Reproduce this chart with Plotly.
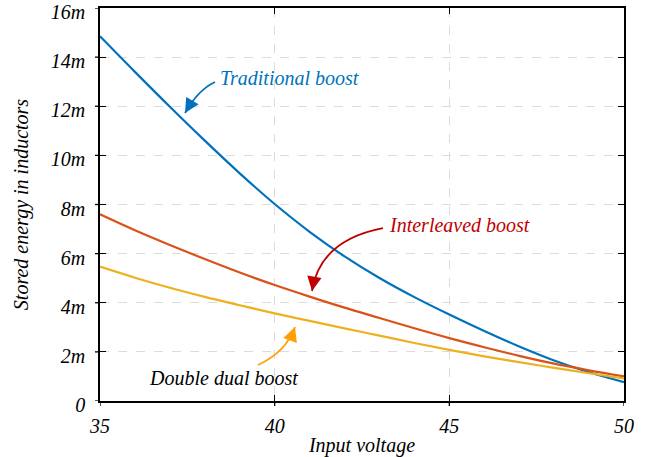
import plotly.graph_objects as go

# ---- data (energy in "m" units) ----
voltage = [35, 36, 37, 38, 39, 40, 41, 42, 43, 44, 45, 46, 47, 48, 49, 50]
traditional = [14.85, 13.40, 11.98, 10.60, 9.27, 8.02, 6.89, 5.89, 5.01, 4.23, 3.52, 2.85, 2.22, 1.65, 1.17, 0.77]
interleaved = [7.6, 6.95, 6.35, 5.78, 5.23, 4.72, 4.25, 3.8, 3.38, 2.96, 2.56, 2.19, 1.84, 1.52, 1.25, 1.0]
double_dual = [5.47, 5.02, 4.61, 4.24, 3.9, 3.57, 3.26, 2.96, 2.66, 2.36, 2.08, 1.82, 1.58, 1.35, 1.13, 0.92]

y_tickvals = [0, 2, 4, 6, 8, 10, 12, 14, 16]
y_ticktext = ["0", "2m", "4m", "6m", "8m", "10m", "12m", "14m", "16m"]
x_tickvals = [35, 40, 45, 50]
x_ticktext = ["35", "40", "45", "50"]

SCALE = 1e-3
BLUE = "#0072BD"
ORANGE = "#D95319"
YELLOW = "#EDB120"
RED_TXT = "#C00000"
ARROW_ORANGE = "#FFA000"
FONT = "Liberation Serif"

def sc(v):
    return [a * SCALE for a in v]

fig = go.Figure()
for name, vals, col in [("Traditional boost", traditional, BLUE),
                        ("Interleaved boost", interleaved, ORANGE),
                        ("Double dual boost", double_dual, YELLOW)]:
    fig.add_trace(go.Scatter(x=voltage, y=sc(vals), mode="lines", name=name,
                             line=dict(color=col, width=2.2, shape="spline", smoothing=1.0),
                             showlegend=False))

tfont = dict(family=FONT, size=20, color="black", style="italic")
YTOP = 16.00001 * SCALE

fig.update_layout(
    width=650, height=457,
    margin=dict(l=100, r=26, t=8, b=56, autoexpand=False),
    paper_bgcolor="white", plot_bgcolor="white",
    font=dict(family=FONT, size=20, color="black"),
    xaxis=dict(range=[35, 50], tickvals=x_tickvals, ticktext=x_ticktext,
               ticks="inside", ticklen=6, automargin=False,
               tickwidth=1.3, tickcolor="black", showline=True, linecolor="black",
               linewidth=1.5, mirror="ticks", showgrid=True, gridcolor="#DCDCDC",
               griddash="dash", gridwidth=1, zeroline=False, tickfont=tfont,
               ticklabelstandoff=6, ticklabeloverflow="allow",
               title=dict(text="Input voltage", font=tfont, standoff=2)),
    yaxis=dict(range=[0, YTOP], tickvals=sc(y_tickvals), ticktext=y_ticktext,
               ticks="inside", ticklen=6, tickwidth=1.3, tickcolor="black", automargin=False,
               showline=True, linecolor="black", linewidth=1.5, mirror="ticks",
               showgrid=True, gridcolor="#DCDCDC", griddash="dash", gridwidth=1,
               zeroline=False, tickfont=tfont, ticklabelstandoff=9, ticklabelshift=4,
               ticklabeloverflow="allow",
               title=dict(text="Stored energy in inductors", font=tfont, standoff=17)),
)

# outward tick stubs on left and bottom (ticks cross the axis line)
for xv in x_tickvals:
    fig.add_shape(type="line", xref="x", yref="paper", x0=xv, x1=xv,
                  ysizemode="pixel", yanchor=0, y0=0, y1=-5,
                  line=dict(color="black", width=1.3))
for yv in y_tickvals:
    fig.add_shape(type="line", xref="paper", yref="y", y0=yv * SCALE, y1=yv * SCALE,
                  xsizemode="pixel", xanchor=0, x0=0, x1=-5,
                  line=dict(color="black", width=1.3))

# ---- annotations: labels ----
labels = [
    ("Traditional boost", 38.378, 13.15, BLUE),
    ("Interleaved boost", 43.216, 7.165, RED_TXT),
    ("Double dual boost", 36.346, 0.936, "black"),
]
for txt, x, y, col in labels:
    fig.add_annotation(x=x, y=y * SCALE, text=txt, showarrow=False, xanchor="left",
                       yanchor="middle", font=dict(family=FONT, size=20, color=col, style="italic"))

# ---- curved arrows: (start, control, tip) in data coords, plus head direction in px ----
arrows = [
    ((38.292, 12.987), (37.805, 12.662), (37.433, 11.725), (6, -10), BLUE),
    ((43.101, 7.043), (41.298, 6.555), (41.069, 4.478), (2, -12), RED_TXT),
    ((39.523, 1.466), (40.325, 1.995), (40.582, 3.013), (-4, 11), ARROW_ORANGE),
]
for p0, c, p2, d, col in arrows:
    path = "M {},{} Q {},{} {},{}".format(p0[0], p0[1] * SCALE, c[0], c[1] * SCALE, p2[0], p2[1] * SCALE)
    fig.add_shape(type="path", path=path, xref="x", yref="y",
                  line=dict(color=col, width=1.8))
    fig.add_annotation(x=p2[0], y=p2[1] * SCALE, ax=d[0], ay=d[1], text="", showarrow=True,
                       arrowhead=2, arrowsize=1.6, arrowwidth=1.8, arrowcolor=col,
                       xref="x", yref="y")

fig.write_html("out.html")
